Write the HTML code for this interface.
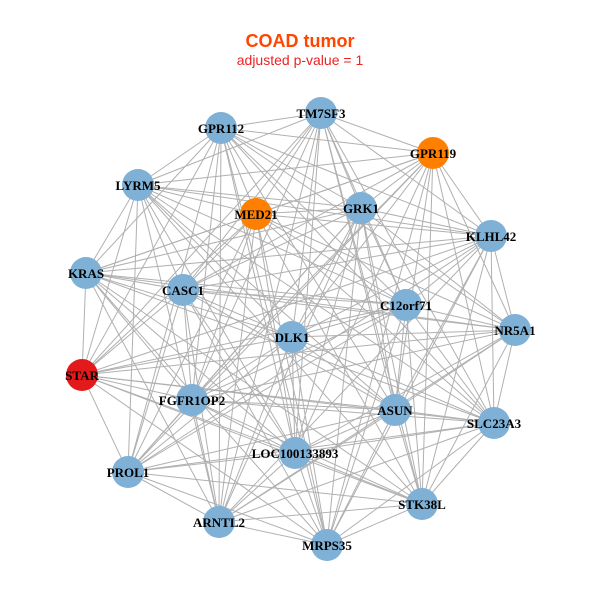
<!DOCTYPE html>
<html><head><meta charset="utf-8"><style>
html,body{margin:0;padding:0;background:#fff;}
svg{display:block;}
.l{font-family:"Liberation Serif",serif;font-weight:bold;font-size:13px;fill:#000;text-anchor:middle;}
</style></head><body>
<svg id="s" width="600" height="600" viewBox="0 0 600 600" xmlns="http://www.w3.org/2000/svg">
<rect width="600" height="600" fill="#fff"/>
<text x="300" y="47" text-anchor="middle" font-family="Liberation Sans, sans-serif" font-weight="bold" font-size="18" fill="#ff4500">COAD tumor</text>
<text x="300" y="65" text-anchor="middle" font-family="Liberation Sans, sans-serif" font-size="14" fill="#ee2222">adjusted p-value = 1</text>
<g id="edges" stroke="#b0b0b0" stroke-width="1"></g>
<g id="nodes">
<circle cx="321" cy="113" r="16" fill="#7fb0d6"/>
<circle cx="221" cy="128" r="16" fill="#7fb0d6"/>
<circle cx="433" cy="153" r="16" fill="#ff8000"/>
<circle cx="138" cy="185" r="16" fill="#7fb0d6"/>
<circle cx="256" cy="214" r="16" fill="#ff8000"/>
<circle cx="361" cy="208" r="16" fill="#7fb0d6"/>
<circle cx="491" cy="236" r="16" fill="#7fb0d6"/>
<circle cx="86" cy="273" r="16" fill="#7fb0d6"/>
<circle cx="183" cy="290" r="16" fill="#7fb0d6"/>
<circle cx="406" cy="305" r="16" fill="#7fb0d6"/>
<circle cx="515" cy="330" r="16" fill="#7fb0d6"/>
<circle cx="292" cy="337" r="16" fill="#7fb0d6"/>
<circle cx="82" cy="375" r="16" fill="#e31a1c"/>
<circle cx="192" cy="400" r="16" fill="#7fb0d6"/>
<circle cx="395" cy="410" r="16" fill="#7fb0d6"/>
<circle cx="494" cy="423" r="16" fill="#7fb0d6"/>
<circle cx="295" cy="453" r="16" fill="#7fb0d6"/>
<circle cx="128" cy="472" r="16" fill="#7fb0d6"/>
<circle cx="422" cy="504" r="16" fill="#7fb0d6"/>
<circle cx="219" cy="522" r="16" fill="#7fb0d6"/>
<circle cx="327" cy="545" r="16" fill="#7fb0d6"/>
</g>
<g>
<text class="l" x="321" y="118">TM7SF3</text>
<text class="l" x="221" y="133">GPR112</text>
<text class="l" x="433" y="158">GPR119</text>
<text class="l" x="138" y="190">LYRM5</text>
<text class="l" x="256" y="219">MED21</text>
<text class="l" x="361" y="213">GRK1</text>
<text class="l" x="491" y="241">KLHL42</text>
<text class="l" x="86" y="278">KRAS</text>
<text class="l" x="183" y="295">CASC1</text>
<text class="l" x="406" y="310">C12orf71</text>
<text class="l" x="515" y="335">NR5A1</text>
<text class="l" x="292" y="342">DLK1</text>
<text class="l" x="82" y="380">STAR</text>
<text class="l" x="192" y="405">FGFR1OP2</text>
<text class="l" x="395" y="415">ASUN</text>
<text class="l" x="494" y="428">SLC23A3</text>
<text class="l" x="295" y="458">LOC100133893</text>
<text class="l" x="128" y="477">PROL1</text>
<text class="l" x="422" y="509">STK38L</text>
<text class="l" x="219" y="527">ARNTL2</text>
<text class="l" x="327" y="550">MRPS35</text>
</g>
</svg>
<script>
var P=[[321,113],[221,128],[433,153],[138,185],[256,214],[361,208],[491,236],[86,273],[183,290],[406,305],[515,330],[292,337],[82,375],[192,400],[395,410],[494,423],[295,453],[128,472],[422,504],[219,522],[327,545]];
var g=document.getElementById('edges'),h='';
for(var i=0;i<P.length;i++)for(var j=i+1;j<P.length;j++){
 if(((i*7+j*13)%10)<2)continue;
 h+='<line x1="'+P[i][0]+'" y1="'+P[i][1]+'" x2="'+P[j][0]+'" y2="'+P[j][1]+'"/>';
}
g.innerHTML=h;
</script>
</body></html>
